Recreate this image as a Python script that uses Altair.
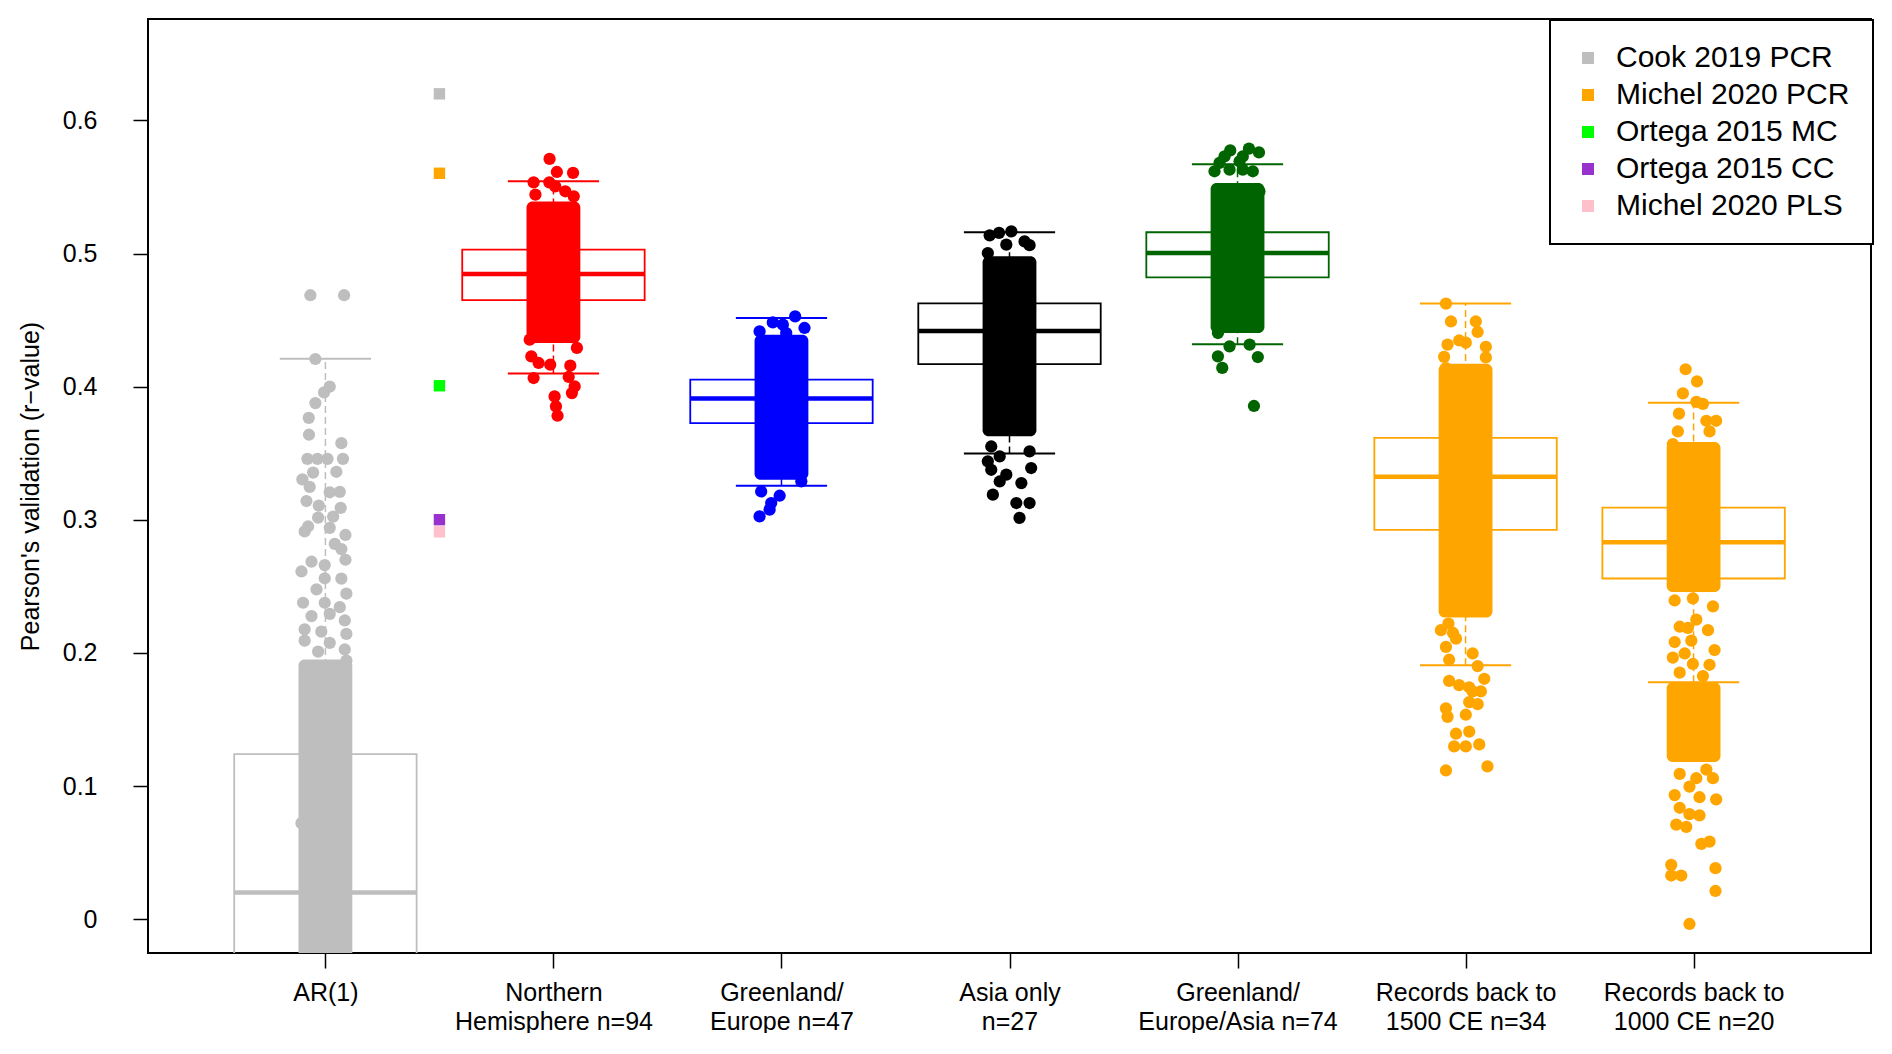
import json
import altair as alt
import pandas as pd

FONT = "Liberation Sans"

# ---- categories / axis text ----
GROUP_POS = [1, 2, 3, 4, 5, 6, 7]
LABEL_LINE1 = ["AR(1)", "Northern", "Greenland/", "Asia only", "Greenland/",
               "Records back to", "Records back to"]
LABEL_LINE2 = ["", "Hemisphere n=94", "Europe n=47", "n=27", "Europe/Asia n=74",
               "1500 CE n=34", "1000 CE n=20"]
Y_TICKS = [0, 0.1, 0.2, 0.3, 0.4, 0.5, 0.6]
Y_TITLE = "Pearson's validation (r\u2212value)"

# ---- boxplot statistics ----
BOX_Q1 = [-0.090, 0.4650, 0.3727, 0.4170, 0.4821, 0.2924, 0.2559]
BOX_MED = [0.020, 0.4847, 0.3912, 0.4418, 0.5004, 0.3323, 0.2831]
BOX_Q3 = [0.124, 0.5030, 0.4053, 0.4626, 0.5160, 0.3615, 0.3092]
WHISK_LO = [-0.390, 0.4100, 0.3256, 0.3499, 0.4318, 0.1908, 0.1780]
WHISK_HI = [0.421, 0.5543, 0.4516, 0.5160, 0.5670, 0.4624, 0.3879]
GROUP_COLORS = ["#BEBEBE", "#FF0000", "#0000FF", "#000000", "#006400", "#FFA500", "#FFA500"]

# ---- dense (solid) part of each jittered point cloud: (group, low, high) ----
CORE_GROUP = [1, 2, 3, 4, 5, 6, 7, 7]
CORE_LO = [-0.040, 0.4328, 0.3301, 0.3627, 0.4403, 0.2267, 0.2457, 0.1180]
CORE_HI = [0.195, 0.5392, 0.4391, 0.4979, 0.5530, 0.4173, 0.3585, 0.1780]

# ---- individually visible jittered points: (x jitter, r-value) ----
G1_POINTS = [(-0.066, 0.4687), (0.082, 0.4687), (-0.044, 0.4208), (0.019, 0.4000), (-0.006, 0.3957),
             (-0.044, 0.3877), (-0.073, 0.3766), (-0.072, 0.3639), (0.070, 0.3576), (-0.079, 0.3458),
             (-0.035, 0.3458), (0.009, 0.3458), (0.077, 0.3458), (0.048, 0.3361), (-0.054, 0.3355),
             (-0.101, 0.3304), (-0.069, 0.3247), (0.019, 0.3207), (0.063, 0.3210), (-0.083, 0.3141),
             (-0.029, 0.3107), (0.067, 0.3090), (-0.032, 0.3017), (0.034, 0.3024), (-0.076, 0.2950),
             (-0.091, 0.2913), (0.019, 0.2940), (0.088, 0.2886), (0.041, 0.2819), (0.070, 0.2780),
             (-0.061, 0.2685), (-0.105, 0.2612), (-0.003, 0.2660), (0.088, 0.2700), (-0.003, 0.2561),
             (0.070, 0.2558), (-0.039, 0.2478), (0.092, 0.2445), (-0.098, 0.2377), (-0.003, 0.2377),
             (0.063, 0.2344), (-0.061, 0.2277), (0.019, 0.2294), (0.085, 0.2244), (-0.091, 0.2177),
             (-0.018, 0.2160), (0.092, 0.2143), (-0.091, 0.2093), (0.019, 0.2076), (0.085, 0.2026),
             (-0.032, 0.2010), (0.092, 0.1942), (-0.105, 0.0721)]
G2_POINTS = [(-0.017, 0.5711), (0.015, 0.5613), (0.086, 0.5606), (-0.087, 0.5535), (-0.018, 0.5535),
             (0.008, 0.5505), (0.052, 0.5468), (-0.079, 0.5443), (0.089, 0.5430), (-0.104, 0.4353),
             (0.103, 0.4291), (-0.097, 0.4228), (-0.065, 0.4178), (-0.014, 0.4165), (0.074, 0.4158),
             (-0.087, 0.4065), (0.067, 0.4073), (0.093, 0.4002), (0.081, 0.3952), (0.005, 0.3927),
             (0.011, 0.3852), (0.018, 0.3782)]
G3_POINTS = [(0.060, 0.4528), (-0.038, 0.4483), (0.006, 0.4466), (0.101, 0.4441), (-0.096, 0.4415),
             (0.021, 0.4403), (0.087, 0.3289), (-0.089, 0.3213), (-0.008, 0.3181), (-0.045, 0.3126),
             (-0.052, 0.3076), (-0.096, 0.3026)]
G4_POINTS = [(0.008, 0.5167), (-0.087, 0.5137), (-0.046, 0.5155), (0.066, 0.5091), (-0.014, 0.5067),
             (-0.095, 0.5004), (0.088, 0.5063), (-0.080, 0.3551), (0.088, 0.3514), (-0.095, 0.3439),
             (-0.043, 0.3476), (-0.080, 0.3376), (0.095, 0.3389), (-0.014, 0.3339), (-0.043, 0.3288),
             (0.052, 0.3276), (-0.073, 0.3189), (0.030, 0.3126), (0.088, 0.3126), (0.044, 0.3014)]
G5_POINTS = [(-0.032, 0.5775), (0.050, 0.5788), (0.094, 0.5760), (-0.057, 0.5730), (0.023, 0.5730),
             (-0.079, 0.5681), (0.009, 0.5693), (-0.101, 0.5618), (0.067, 0.5618), (-0.035, 0.5630),
             (0.023, 0.5630), (0.096, 0.5467), (-0.086, 0.4403), (-0.035, 0.4303), (0.053, 0.4316),
             (-0.086, 0.4228), (0.089, 0.4223), (-0.067, 0.4141), (0.072, 0.3855)]
G6_POINTS = [(-0.086, 0.4624), (-0.064, 0.4490), (0.045, 0.4490), (0.053, 0.4411), (-0.079, 0.4316),
             (-0.028, 0.4347), (0.001, 0.4331), (0.089, 0.4300), (0.089, 0.4220), (-0.094, 0.4224),
             (-0.086, 0.4140), (-0.075, 0.2220), (-0.055, 0.2150), (-0.108, 0.2171), (-0.042, 0.2107),
             (-0.086, 0.2045), (0.031, 0.1996), (-0.072, 0.1949), (0.053, 0.1901), (-0.072, 0.1790),
             (0.082, 0.1806), (-0.028, 0.1758), (0.016, 0.1742), (0.031, 0.1711), (0.067, 0.1711),
             (0.016, 0.1631), (0.053, 0.1615), (-0.086, 0.1584), (0.001, 0.1536), (-0.079, 0.1520),
             (-0.042, 0.1393), (0.016, 0.1409), (-0.050, 0.1298), (0.001, 0.1298), (0.060, 0.1313),
             (-0.086, 0.1117), (0.096, 0.1148)]
G7_POINTS = [(-0.035, 0.4131), (0.015, 0.4039), (-0.047, 0.3950), (0.012, 0.3886), (0.041, 0.3871),
             (-0.064, 0.3798), (0.056, 0.3744), (0.099, 0.3744), (-0.069, 0.3664), (0.070, 0.3664),
             (-0.091, 0.3569), (-0.083, 0.2394), (-0.003, 0.2410), (0.085, 0.2350), (0.012, 0.2250),
             (-0.061, 0.2197), (-0.025, 0.2188), (0.063, 0.2171), (-0.083, 0.2082), (-0.010, 0.2092),
             (0.092, 0.2022), (-0.039, 0.1996), (-0.091, 0.1965), (-0.003, 0.1917), (0.070, 0.1911),
             (0.041, 0.1826), (-0.061, 0.1852), (-0.061, 0.1091), (0.012, 0.1059), (-0.018, 0.0996),
             (0.056, 0.1123), (0.085, 0.1059), (-0.083, 0.0932), (0.099, 0.0900), (0.026, 0.0916),
             (-0.061, 0.0837), (-0.018, 0.0789), (0.026, 0.0780), (-0.076, 0.0710), (-0.032, 0.0694),
             (0.034, 0.0566), (0.070, 0.0583), (-0.098, 0.0408), (-0.054, 0.0328), (-0.098, 0.0328),
             (0.096, 0.0383), (0.096, 0.0212), (-0.018, -0.0036)]

# ---- published reconstructions (squares) ----
REF_NAMES = ["Cook 2019 PCR", "Michel 2020 PCR", "Ortega 2015 MC", "Ortega 2015 CC", "Michel 2020 PLS"]
REF_VALUES = [0.620, 0.5603, 0.4007, 0.3001, 0.2910]
REF_POS = [1.5, 1.5, 1.5, 1.5, 1.5]
REF_COLORS = ["#BEBEBE", "#FFA500", "#00FF00", "#9932CC", "#FFC0CB"]

# ---- build tables ----
box_df = pd.DataFrame({"pos": GROUP_POS, "q1": BOX_Q1, "med": BOX_MED, "q3": BOX_Q3,
                       "lo": WHISK_LO, "hi": WHISK_HI, "color": GROUP_COLORS})
core_df = pd.DataFrame({"pos": CORE_GROUP, "lo": CORE_LO, "hi": CORE_HI,
                        "color": [GROUP_COLORS[g - 1] for g in CORE_GROUP]})
rows = []
for g, pts in zip(GROUP_POS, [G1_POINTS, G2_POINTS, G3_POINTS, G4_POINTS, G5_POINTS, G6_POINTS, G7_POINTS]):
    for dx, yv in pts:
        rows.append({"pos": g, "dx": dx, "r": yv, "color": GROUP_COLORS[g - 1]})
pts_df = pd.DataFrame(rows)
ref_df = pd.DataFrame({"name": REF_NAMES, "r": REF_VALUES, "pos": REF_POS})

label_lines = [[a] if not b else [a, b] for a, b in zip(LABEL_LINE1, LABEL_LINE2)]
x_label_expr = json.dumps(label_lines) + "[round(datum.value) - 1]"

xscale = alt.Scale(domain=[0.222, 7.778], nice=False, zero=False)
yscale = alt.Scale(domain=[-0.0254, 0.6762], nice=False, zero=False)

xaxis = alt.Axis(values=GROUP_POS, labelExpr=x_label_expr, title=None, grid=False, domain=False,
                 tickSize=15, tickWidth=1.5, tickColor="black", labelFont=FONT, labelFontSize=25,
                 labelColor="black", labelPadding=12, labelLineHeight=29, labelAngle=0,
                 labelOverlap=False, labelLimit=500, labelFlush=False)
yaxis = alt.Axis(values=Y_TICKS, format="~g", title=Y_TITLE, grid=False, domain=False,
                 tickSize=15, tickWidth=1.5, tickColor="black", labelFont=FONT, labelFontSize=25,
                 labelColor="black", labelPadding=36, titleFont=FONT, titleFontSize=25,
                 titleFontWeight="normal", titleColor="black", titleX=-118, titleY=467,
                 titleAngle=270, titleAlign="center", titleBaseline="middle", labelOverlap=False)


def X(field):
    return alt.X(field, type="quantitative", scale=xscale, axis=xaxis)


def Y(field):
    return alt.Y(field, type="quantitative", scale=yscale, axis=yaxis)


nocolor = alt.Color("color:N", scale=None)
base = alt.Chart(box_df).transform_calculate(
    bl="datum.pos - 0.4", br="datum.pos + 0.4", cl="datum.pos - 0.2", cr="datum.pos + 0.2")

whisk_up = base.mark_rule(strokeDash=[7, 4], strokeWidth=1.5, clip=True).encode(
    x=X("pos"), y=Y("q3"), y2="hi:Q", color=nocolor)
whisk_dn = base.mark_rule(strokeDash=[7, 4], strokeWidth=1.5, clip=True).encode(
    x=X("pos"), y=Y("lo"), y2="q1:Q", color=nocolor)
cap_hi = base.mark_rule(strokeWidth=2, clip=True).encode(x=X("cl"), x2="cr:Q", y=Y("hi"), color=nocolor)
cap_lo = base.mark_rule(strokeWidth=2, clip=True).encode(x=X("cl"), x2="cr:Q", y=Y("lo"), color=nocolor)
boxes = base.mark_rect(fillOpacity=0, strokeWidth=1.8, clip=True).encode(
    x=X("bl"), x2="br:Q", y=Y("q1"), y2="q3:Q", stroke=alt.Stroke("color:N", scale=None))
medians = base.mark_rule(strokeWidth=4.5, clip=True).encode(
    x=X("bl"), x2="br:Q", y=Y("med"), color=nocolor)

cores = alt.Chart(core_df).transform_calculate(
    cl="datum.pos - 0.118", cr="datum.pos + 0.118").mark_rect(cornerRadius=6, clip=True).encode(
    x=X("cl"), x2="cr:Q", y=Y("lo"), y2="hi:Q", color=nocolor)

points = alt.Chart(pts_df).transform_calculate(px="datum.pos + datum.dx").mark_circle(
    size=150, opacity=1, clip=True).encode(x=X("px"), y=Y("r"), color=nocolor)

refs = alt.Chart(ref_df).mark_square(size=130, opacity=1).encode(
    x=X("pos"), y=Y("r"),
    color=alt.Color("name:N", scale=alt.Scale(domain=REF_NAMES, range=REF_COLORS),
                    legend=alt.Legend(orient="none", legendX=1402, legendY=1, title=None,
                                      symbolType="square", symbolSize=144, symbolStrokeWidth=0,
                                      symbolOpacity=1, labelFont=FONT, labelFontSize=30,
                                      labelColor="black", padding=23, rowPadding=7,
                                      labelOffset=13, strokeColor="black", fillColor="white",
                                      labelLimit=500)))

chart = alt.layer(whisk_up, whisk_dn, cap_hi, cap_lo, boxes, medians, cores, points, refs).properties(
    width=1723, height=934,
    autosize=alt.AutoSizeParams(type="none"),
    padding={"left": 140, "top": 11, "right": 12, "bottom": 80},
    background="white",
).configure_view(stroke="black", strokeWidth=2).configure_legend(strokeWidth=2)

chart.save("out.html", embed_options={"renderer": "svg", "actions": False})
